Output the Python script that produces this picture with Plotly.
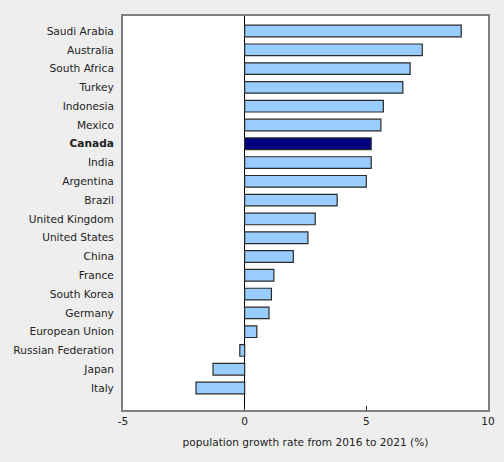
import plotly.graph_objects as go

# population growth 2016-2021 (%), top to bottom as in the chart
countries = ["Saudi Arabia", "Australia", "South Africa", "Turkey", "Indonesia",
             "Mexico", "Canada", "India", "Argentina", "Brazil", "United Kingdom",
             "United States", "China", "France", "South Korea", "Germany",
             "European Union", "Russian Federation", "Japan", "Italy"]
growth = [8.9, 7.3, 6.8, 6.5, 5.7, 5.6, 5.2, 5.2, 5.0, 3.8, 2.9, 2.6, 2.0,
          1.2, 1.1, 1.0, 0.5, -0.2, -1.3, -2.0]
x_ticks = [-5, 0, 5, 10]
x_tick_labels = ["-5", "0", "5", "10"]

highlight = "Canada"

# plotly draws categories bottom-up, so reverse
cats = countries[::-1]
vals = growth[::-1]
colors = ["#000080" if c == highlight else "#99ccff" for c in cats]
labels = ["<b>%s</b>" % c if c == highlight else c for c in cats]

fig = go.Figure()
fig.add_trace(go.Bar(
    x=vals,
    y=cats,
    orientation="h",
    width=0.62,
    marker=dict(color=colors, line=dict(color="#2a2a2a", width=1.2)),
    hoverinfo="x+y",
))

fig.update_layout(
    width=504,
    height=462,
    margin=dict(l=123, r=16, t=16, b=52),
    paper_bgcolor="#eeeeee",
    plot_bgcolor="#ffffff",
    font=dict(family="DejaVu Sans", size=10.6, color="#222222"),
    showlegend=False,
    xaxis=dict(
        range=[-5, 10],
        tickvals=x_ticks,
        ticktext=x_tick_labels,
        ticks="inside",
        ticklen=4,
        tickcolor="#222222",
        showgrid=False,
        zeroline=True,
        zerolinecolor="#000000",
        zerolinewidth=1,
        showline=True,
        linecolor="#808080",
        linewidth=2,
        mirror=True,
        automargin=False,
        title=dict(text="population growth rate from 2016 to 2021 (%)",
                   font=dict(size=10.6), standoff=13),
    ),
    yaxis=dict(
        categoryorder="array",
        categoryarray=cats,
        tickvals=cats,
        ticktext=labels,
        range=[-1.17, 19.8],
        showgrid=False,
        ticks="",
        ticklabelstandoff=5,
        showline=True,
        linecolor="#808080",
        linewidth=2,
        mirror=True,
        automargin=False,
    ),
)

# drop the default page margin so the figure fills the window
fig.write_html("out.html", config={"displayModeBar": False},
               post_script="document.body.style.margin='0';")
